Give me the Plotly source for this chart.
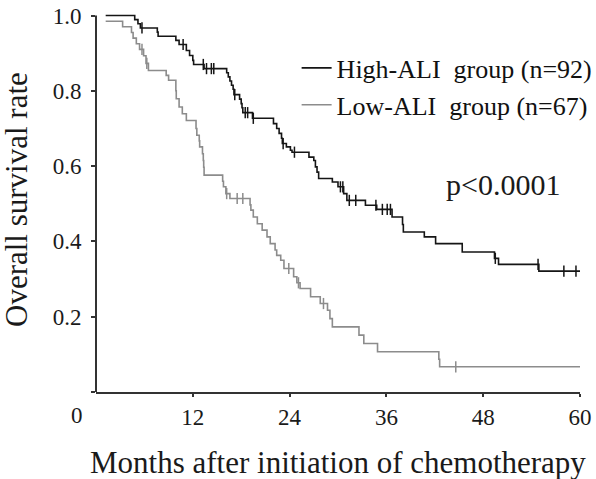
import plotly.graph_objects as go

# ---- data ----
high_t = [1.2, 4.8, 5.2, 5.5, 7.6, 7.7, 9.9, 10.3, 11.2, 11.6, 12.0, 12.1, 13.4,
          16.2, 16.4, 16.6, 16.8, 17.0, 17.1, 17.8, 18.0, 18.1, 18.2, 19.4,
          22.0, 22.4, 22.7, 23.0, 23.1, 23.6, 24.1, 24.3, 26.4, 27.0, 27.2, 27.4, 27.6,
          29.3, 30.0, 30.7, 31.1, 33.4, 34.8, 36.7, 38.0, 38.1, 40.7, 42.1, 45.4,
          49.4, 49.9, 54.9, 60.0]
high_s = [1.0, 0.989, 0.978, 0.967, 0.956, 0.945, 0.934, 0.923, 0.907, 0.894, 0.881, 0.870, 0.859,
          0.848, 0.837, 0.826, 0.815, 0.804, 0.790, 0.778, 0.766, 0.755, 0.742, 0.727,
          0.713, 0.700, 0.687, 0.674, 0.660, 0.651, 0.642, 0.637, 0.624, 0.615, 0.598, 0.584, 0.567,
          0.558, 0.545, 0.527, 0.509, 0.496, 0.485, 0.465, 0.445, 0.425, 0.412, 0.394, 0.372,
          0.355, 0.339, 0.321, 0.321]
high_censor = [5.7, 10.8, 13.3, 13.7, 14.3, 14.6, 17.2, 18.5, 18.8, 19.5, 23.2, 24.6,
               30.3, 30.6, 31.4, 32.2, 34.7, 35.5, 36.1, 36.5, 49.5, 54.8, 58.0, 59.5]

low_t = [1.2, 3.3, 4.4, 4.6, 5.0, 5.4, 5.9, 6.2, 6.5, 8.7, 9.0, 9.9, 9.95, 10.3, 10.7, 11.2,
         12.4, 12.5, 12.8, 12.85, 13.2, 13.3, 13.35, 13.4, 15.7, 15.8, 16.1, 16.6,
         19.1, 19.2, 19.5, 20.0, 20.6, 21.2, 21.6, 22.2, 22.4, 22.9, 23.3,
         24.5, 24.9, 25.3, 26.6, 27.8, 28.7, 29.0, 29.3, 32.6, 33.2, 34.9, 42.5, 42.6, 60.0]
low_s = [0.985, 0.970, 0.955, 0.940, 0.925, 0.910, 0.893, 0.873, 0.854, 0.841, 0.828, 0.800, 0.779,
         0.757, 0.739, 0.721, 0.700, 0.682, 0.667, 0.651, 0.633, 0.615, 0.597, 0.576,
         0.560, 0.545, 0.527, 0.514, 0.497, 0.483, 0.465, 0.447, 0.430, 0.412, 0.394, 0.377,
         0.363, 0.350, 0.328, 0.306, 0.290, 0.275, 0.253, 0.235, 0.217, 0.195, 0.173,
         0.151, 0.129, 0.107, 0.087, 0.067, 0.067]
low_censor = [5.7, 6.3, 16.2, 17.5, 18.2, 23.9, 25.1, 28.2, 44.6]

x_ticks = [12, 24, 36, 48, 60]
y_ticks = [0, 0.2, 0.4, 0.6, 0.8, 1.0]
y_ticktext = ["", "0.2", "0.4", "0.6", "0.8", "1.0"]

names = ["High-ALI\u00a0 group (n=92)", "Low-ALI\u00a0 group (n=67)"]
colors = ["#151515", "#8c8c8c"]
FONT = "Liberation Serif"


def step_value(ts, ss, c):
    v = ss[0]
    for t, s in zip(ts, ss):
        if t <= c:
            v = s
    return v


fig = go.Figure()
for ts, ss, cens, name, col in [(high_t, high_s, high_censor, names[0], colors[0]),
                                (low_t, low_s, low_censor, names[1], colors[1])]:
    fig.add_trace(go.Scatter(x=ts, y=ss, mode="lines", line=dict(shape="hv", color=col, width=1.6),
                             name=name))
    fig.add_trace(go.Scatter(x=cens, y=[step_value(ts, ss, c) for c in cens], mode="markers",
                             marker=dict(symbol="line-ns-open", size=8, color=col,
                                         line=dict(color=col, width=1.5)),
                             showlegend=False, hoverinfo="skip"))

fig.update_layout(
    width=596, height=479,
    margin=dict(l=96, r=16, t=8, b=87, autoexpand=False),
    paper_bgcolor="white", plot_bgcolor="white",
    font=dict(family=FONT, color="#1a1a1a", size=23),
    showlegend=True,
    legend=dict(x=0.4145, y=0.905, xanchor="left", yanchor="top",
                font=dict(family=FONT, size=26, color="#111"),
                bgcolor="rgba(0,0,0,0)", borderwidth=0, tracegroupgap=0),
    xaxis=dict(range=[0, 60], tickvals=x_ticks, showgrid=False, zeroline=False,
               showline=True, linecolor="#333", linewidth=2, ticks="outside",
               ticklen=3, tickwidth=2, tickcolor="#333", automargin=False,
               tickfont=dict(family=FONT, size=23, color="#1a1a1a")),
    yaxis=dict(range=[0, 1.02], tickvals=y_ticks, ticktext=y_ticktext, showgrid=False,
               zeroline=False, showline=False, ticks="outside", ticklen=4, tickwidth=2,
               tickcolor="#333", automargin=False, ticklabelstandoff=5,
               tickfont=dict(family=FONT, size=23, color="#1a1a1a")),
    shapes=[dict(type="line", xref="paper", yref="y", x0=0, x1=0, y0=0, y1=1.0,
                 line=dict(color="#333", width=2))],
    annotations=[
        dict(text="Months after initiation of chemotherapy", xref="paper", yref="paper",
             x=0.5, y=0, yshift=-70, xanchor="center", yanchor="middle", showarrow=False,
             font=dict(family=FONT, size=31, color="#1a1a1a")),
        dict(text="Overall survival rate", xref="paper", yref="paper", x=0, y=0.5,
             xshift=-80, xanchor="center", yanchor="middle", textangle=-90, showarrow=False,
             font=dict(family=FONT, size=31, color="#1a1a1a")),
        dict(text="0", xref="paper", yref="paper", x=0, y=0, xshift=-19, yshift=-23,
             xanchor="center", yanchor="middle", showarrow=False,
             font=dict(family=FONT, size=23, color="#1a1a1a")),
        dict(text="p<0.0001", xref="x", yref="y", x=50.45, y=0.552, xanchor="center",
             yanchor="middle", showarrow=False, font=dict(family=FONT, size=30, color="#1a1a1a")),
    ],
)

fig.write_html("out.html", config={"displayModeBar": False},
               post_script="document.body.style.margin='0';document.body.style.overflow='hidden';")
